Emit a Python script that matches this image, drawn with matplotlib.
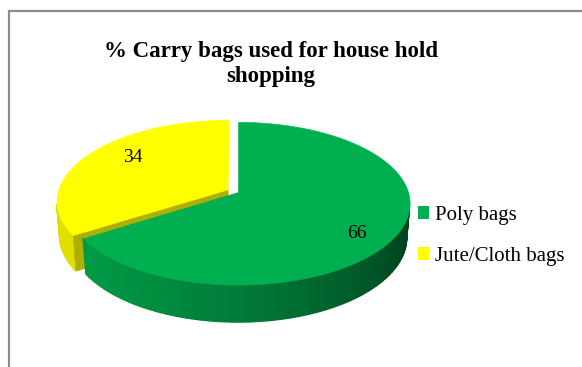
import numpy as np
import matplotlib
matplotlib.use("Agg")
import matplotlib.pyplot as plt
from matplotlib.collections import PolyCollection
from matplotlib.patches import Patch

# survey result
labels = ["Poly bags", "Jute/Cloth bags"]
values = [66, 34]
colors = ["#00B050", "#FFFF00"]
explode = [0.0, 0.07]

title = "% Carry bags used for house hold\nshopping"

W, H = 582, 367
# 3d pie layout (pixels / pie units)
cx, cy, scale = 238, 192, 170
elev = np.radians(28)
dist = 6.4
depth = 0.23
start = 90.0
ce, se = np.cos(elev), np.sin(elev)
cam = np.array([0.0, -dist * ce, dist * se])


def project(X, Y, Z):
    w = dist + Y * ce - Z * se
    u = X * dist / w
    v = (Y * se + Z * ce) * dist / w
    return cx + scale * u, cy - scale * v


def shade(rgb, phi):
    f = 0.33 + 0.55 * (0.5 + 0.5 * np.cos(np.radians(phi - 200)))
    return tuple(np.clip(np.array(rgb) * f, 0, 1))


fig = plt.figure(figsize=(W / 100, H / 100), dpi=100)
ax = fig.add_axes([0, 0, 1, 1])
ax.set_xlim(0, W)
ax.set_ylim(H, 0)
ax.axis("off")

# slice angles, clockwise from 12 o'clock
total = float(sum(values))
slices = []
t = start
for i, val in enumerate(values):
    span = 360.0 * val / total
    t_hi, t_lo = t, t - span
    t = t_lo
    mid = np.radians((t_hi + t_lo) / 2)
    ex, ey = explode[i] * np.cos(mid), explode[i] * np.sin(mid)
    slices.append(dict(i=i, lo=t_lo, hi=t_hi, ex=ex, ey=ey, mid=mid))

# back slices first
slices.sort(key=lambda s: -np.sin(s["mid"]))

for s in slices:
    rgb = matplotlib.colors.to_rgb(colors[s["i"]])
    ex, ey = s["ex"], s["ey"]
    th = np.radians(np.linspace(s["lo"], s["hi"], 240))
    X = np.cos(th) + ex
    Y = np.sin(th) + ey

    # outer wall, only the parts facing the camera
    polys, fcs = [], []
    for k in range(len(th) - 1):
        tm = (th[k] + th[k + 1]) / 2
        nx, ny = np.cos(tm), np.sin(tm)
        px, py = np.cos(tm) + ex, np.sin(tm) + ey
        if nx * (cam[0] - px) + ny * (cam[1] - py) <= 0:
            continue
        a = project(X[k], Y[k], 0)
        b = project(X[k + 1], Y[k + 1], 0)
        c = project(X[k + 1], Y[k + 1], -depth)
        d = project(X[k], Y[k], -depth)
        polys.append([a, b, c, d])
        fcs.append(shade(rgb, np.degrees(tm)))
    if polys:
        ax.add_collection(PolyCollection(polys, facecolors=fcs, edgecolors=fcs, linewidths=0.9))

    # cut faces (skip the ones seen almost edge-on)
    for ang, sign in ((s["lo"], 1), (s["hi"], -1)):
        r = np.radians(ang)
        nx, ny = sign * np.sin(r), -sign * np.cos(r)
        if nx * (cam[0] - ex) + ny * (cam[1] - ey) <= 0.5:
            continue
        rx, ry = np.cos(r) + ex, np.sin(r) + ey
        quad = [project(ex, ey, 0), project(rx, ry, 0),
                project(rx, ry, -depth), project(ex, ey, -depth)]
        fc = shade(rgb, np.degrees(np.arctan2(ny, nx)) - 30)
        ax.add_collection(PolyCollection([quad], facecolors=[fc], edgecolors=[fc], linewidths=0.4))

    # top
    top = [project(ex, ey, 0)] + [project(x, y, 0) for x, y in zip(X, Y)]
    ax.add_collection(PolyCollection([top], facecolors=[rgb], edgecolors=[rgb], linewidths=0.4))

# value labels
label_r = [0.72, 0.74]
label_nudge = [(6, 12), (9, -5)]
for s in slices:
    i = s["i"]
    lx = label_r[i] * np.cos(s["mid"]) + s["ex"]
    ly = label_r[i] * np.sin(s["mid"]) + s["ey"]
    px, py = project(lx, ly, 0)
    ax.text(px + label_nudge[i][0], py + label_nudge[i][1], str(values[i]),
            ha="center", va="center", fontsize=14, family="Liberation Serif")

ax.text(271, 64, title, ha="center", va="center", fontsize=16.5, fontweight="bold",
        family="Liberation Serif", linespacing=1.25)

handles = [Patch(facecolor=c, edgecolor="none") for c in colors]
ax.legend(handles, labels, loc="center left", bbox_to_anchor=(418 / W, 1 - 236 / H),
          frameon=False, handlelength=0.55, handleheight=0.55, handletextpad=0.25,
          labelspacing=1.05, borderpad=0, borderaxespad=0,
          prop={"family": "Liberation Serif", "size": 15})

# chart area frame
ax.plot([9, 9, W], [H, 11, 11], color="#8c8c8c", lw=1.6, solid_joinstyle="miter")

fig.savefig("out.png", dpi=100)
